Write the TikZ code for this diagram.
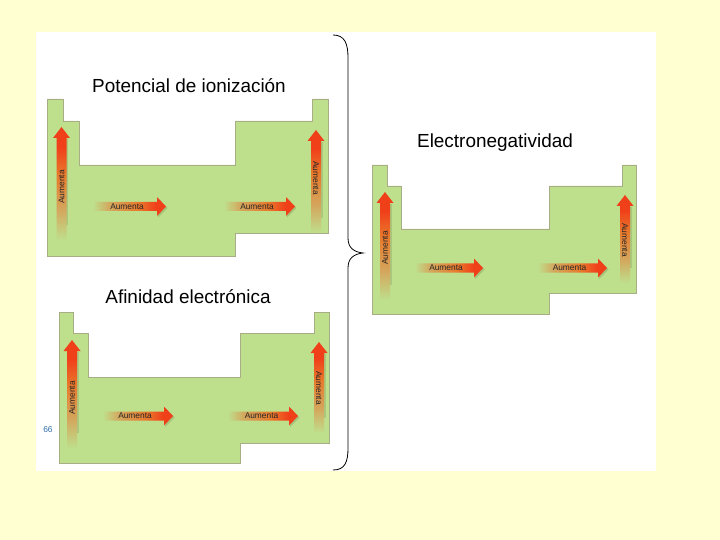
\documentclass[tikz,border=0pt]{standalone}
\usepackage{fontspec}
\setmainfont{Liberation Sans}
\usepackage{tikz}
\usepackage{xcolor}

\definecolor{fondo}{HTML}{FFFFD2}
\definecolor{tablegreen}{HTML}{BEDF8C}
\definecolor{tableedge}{HTML}{A9AD86}
\definecolor{fadetan}{HTML}{D3A85E}
\definecolor{fadeorange}{HTML}{E8792C}
\definecolor{fadered}{HTML}{F0401A}
\definecolor{pagblue}{HTML}{2F6FAF}

\pgfdeclarehorizontalshading{hfade}{100bp}{color(0bp)=(tablegreen); color(25bp)=(tablegreen);
  color(36bp)=(fadetan); color(56bp)=(fadeorange); color(68bp)=(fadered); color(100bp)=(fadered)}
\pgfdeclareverticalshading{vfade}{100bp}{color(0bp)=(tablegreen); color(25bp)=(tablegreen);
  color(38bp)=(fadetan); color(54bp)=(fadeorange); color(66bp)=(fadered); color(100bp)=(fadered)}

% horizontal arrow: x tail, x tip, y
\newcommand{\flechaH}[3]{%
  \fill[black, opacity=.12] ({#2-8},{#3-8}) -- ({#2+1.5},{#3+1.5}) -- ({#2-8},{#3+11}) -- cycle;
  \shade[shading=hfade] (#1,{#3-4.5}) -- ({#2-9},{#3-4.5}) -- ({#2-9},{#3-9.5}) -- (#2,#3)
    -- ({#2-9},{#3+9.5}) -- ({#2-9},{#3+4.5}) -- (#1,{#3+4.5}) -- cycle;}
% vertical arrow: x, y tail, y tip
\newcommand{\flechaV}[3]{%
  \fill[black, opacity=.10] ({#1+4.5},{#3+12}) -- ({#1+6.5},{#3+12}) -- ({#1+6.5},{#2-15}) -- ({#1+4.5},{#2-15}) -- cycle;
  \shade[shading=vfade] ({#1-5},#2) -- ({#1-5},{#3+11}) -- ({#1-8.5},{#3+11}) -- (#1,#3)
    -- ({#1+8.5},{#3+11}) -- ({#1+5},{#3+11}) -- ({#1+5},#2) -- cycle;}

\tikzset{
  tabla/.style={fill=tablegreen, draw=tableedge, line width=0.6pt},
  titulo/.style={font=\fontsize{19}{22}\selectfont, text=black},
  rotulo/.style={font=\fontsize{8.4}{9}\selectfont, text=black!85, inner sep=0pt},
  llave/.style={draw=black, line width=0.8pt}
}

\begin{document}
\begin{tikzpicture}[x=1bp, y=-1bp]
                %% page
                \fill[fondo] (0,0) rectangle (720,540);
                \useasboundingbox (0,0) rectangle (720,540);
                \fill[white] (36,32) rectangle (656,471);

                %% Potencial de ionizacion
                \draw[tabla] (47.5,99) -- (63,99) -- (63,121) -- (79,121) -- (79,165) -- (235,165)
                    -- (235,121) -- (312,121) -- (312,99) -- (328.5,99) -- (328.5,233)
                    -- (235,233) -- (235,256) -- (47.5,256) -- cycle;
                \node[titulo] (ionTitle) at (189,86) {Potencial de ionización};

                \flechaV{61.5}{240}{127}
                \flechaV{316}{233}{130}
                \flechaH{93}{166}{206.5}
                \flechaH{224}{295}{206.5}
                \node[rotulo, rotate=90]  (ionUpL)  at (61.5,187) {Aumenta};
                \node[rotulo, rotate=-90] (ionUpR)  at (316,178)  {Aumenta};
                \node[rotulo]             (ionRgtA) at (127,206.5) {Aumenta};
                \node[rotulo]             (ionRgtB) at (257,206.5) {Aumenta};

                %% Afinidad electronica
                \draw[tabla] (59,312) -- (73.5,312) -- (73.5,333) -- (88.5,333) -- (88.5,377) -- (240,377)
                    -- (240,333) -- (314.5,333) -- (314.5,312) -- (329.5,312) -- (329.5,443)
                    -- (240,443) -- (240,463) -- (59,463) -- cycle;
                \node[titulo] (afinTitle) at (188,297) {Afinidad electrónica};

                \flechaV{72}{448}{340}
                \flechaV{319}{433}{342}
                \flechaH{103}{173}{416}
                \flechaH{228}{298}{416}
                \node[rotulo, rotate=90]  (afinUpL)  at (72,398)  {Aumenta};
                \node[rotulo, rotate=-90] (afinUpR)  at (319,388) {Aumenta};
                \node[rotulo]             (afinRgtA) at (135,416) {Aumenta};
                \node[rotulo]             (afinRgtB) at (261.5,416) {Aumenta};

                %% Electronegatividad
                \draw[tabla] (372,165) -- (387,165) -- (387,186) -- (401,186) -- (401,229) -- (549,229)
                    -- (549,186) -- (622,186) -- (622,165) -- (636,165) -- (636,293)
                    -- (549,293) -- (549,314) -- (372,314) -- cycle;
                \node[titulo] (enegTitle) at (495,143) {Electronegatividad};

                \flechaV{385}{300}{192}
                \flechaV{625}{283}{195}
                \flechaH{415}{483}{268}
                \flechaH{538}{607}{268}
                \node[rotulo, rotate=90]  (enegUpL)  at (385,248) {Aumenta};
                \node[rotulo, rotate=-90] (enegUpR)  at (625,240) {Aumenta};
                \node[rotulo]             (enegRgtA) at (446,268) {Aumenta};
                \node[rotulo]             (enegRgtB) at (569.5,268) {Aumenta};

                %% brace
                \draw[llave] (333,35) .. controls (345,35) and (348,44) .. (348,58) -- (348,238)
                    .. controls (348,248) and (354,252) .. (363,253)
                    .. controls (354,254) and (348,258) .. (348,268) -- (348,448)
                    .. controls (348,462) and (345,470) .. (333,470);

                %% page number
                \node[font=\fontsize{8.5}{9}\selectfont, text=pagblue] (pageNum) at (48,430) {66};
\end{tikzpicture}
\end{document}
